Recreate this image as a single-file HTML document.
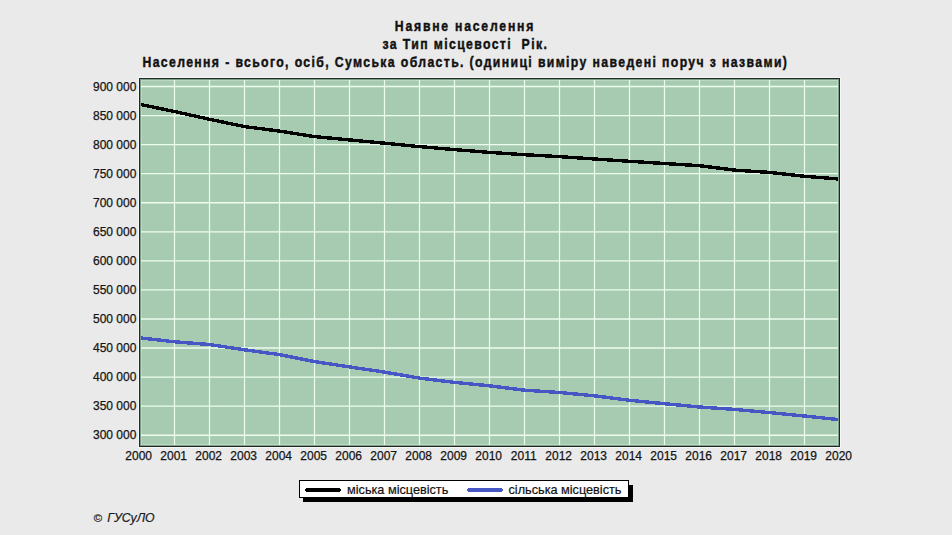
<!DOCTYPE html>
<html><head><meta charset="utf-8"><title>Наявне населення</title>
<style>html,body{margin:0;padding:0;background:#eaeaea;width:952px;height:535px;overflow:hidden}svg{display:block}</style>
</head><body><svg width="952" height="535" viewBox="0 0 952 535"><defs><clipPath id="c"><rect x="140" y="79" width="699" height="367"/></clipPath></defs><rect x="0" y="0" width="952" height="535" fill="#eaeaea"/><rect x="138.5" y="77.5" width="702" height="370" fill="none" stroke="#f6f6f6" stroke-width="1"/><rect x="139" y="78" width="701" height="369" fill="#a7cbb1"/><rect x="141.5" y="80.5" width="696" height="364" fill="none" stroke="#bcd8c2" stroke-width="1"/><path d="M174.5 80V445 M209.5 80V445 M244.5 80V445 M279.5 80V445 M314.5 80V445 M349.5 80V445 M384.5 80V445 M419.5 80V445 M454.5 80V445 M489.5 80V445 M524.5 80V445 M559.5 80V445 M594.5 80V445 M629.5 80V445 M664.5 80V445 M699.5 80V445 M734.5 80V445 M769.5 80V445 M804.5 80V445" stroke="#edfded" stroke-width="1.2" fill="none"/><path d="M141 86.50H838 M141 115.56H838 M141 144.62H838 M141 173.68H838 M141 202.74H838 M141 231.80H838 M141 260.86H838 M141 289.92H838 M141 318.98H838 M141 348.04H838 M141 377.10H838 M141 406.16H838 M141 435.22H838" stroke="#edfded" stroke-width="1.35" fill="none"/><g clip-path="url(#c)"><polyline points="139.5,104.3 174.5,111.5 209.5,119.3 244.5,126.6 279.5,131.1 314.5,136.6 349.5,139.9 384.5,143.2 419.5,146.6 454.5,149.6 489.5,152.4 524.5,154.7 559.5,156.6 594.5,159.0 629.5,161.3 664.5,163.5 699.5,165.7 734.5,170.1 769.5,172.4 804.5,176.25 839.5,179.1" fill="none" stroke="#000" stroke-width="3.4" stroke-linejoin="round" shape-rendering="crispEdges"/><polyline points="139.5,337.8 174.5,341.8 209.5,344.5 244.5,349.8 279.5,354.6 314.5,361.6 349.5,366.9 384.5,372.1 419.5,378.1 454.5,382.4 489.5,385.8 524.5,390.2 559.5,392.5 594.5,395.8 629.5,400.3 664.5,403.7 699.5,407.0 734.5,409.4 769.5,412.6 804.5,416.0 839.5,419.7" fill="none" stroke="#4656c4" stroke-width="3.4" stroke-linejoin="round" shape-rendering="crispEdges"/></g><rect x="139.5" y="78.5" width="700" height="368" fill="none" stroke="#1c2c22" stroke-width="1"/><rect x="140.5" y="79.5" width="698" height="366" fill="none" stroke="#7f9c88" stroke-width="1"/><g font-family="Liberation Sans, sans-serif" font-size="12" fill="#151515" stroke="#151515" stroke-width="0.25"><text x="136.4" y="90.80" text-anchor="end">900 000</text><text x="136.4" y="119.86" text-anchor="end">850 000</text><text x="136.4" y="148.92" text-anchor="end">800 000</text><text x="136.4" y="177.98" text-anchor="end">750 000</text><text x="136.4" y="207.04" text-anchor="end">700 000</text><text x="136.4" y="236.10" text-anchor="end">650 000</text><text x="136.4" y="265.16" text-anchor="end">600 000</text><text x="136.4" y="294.22" text-anchor="end">550 000</text><text x="136.4" y="323.28" text-anchor="end">500 000</text><text x="136.4" y="352.34" text-anchor="end">450 000</text><text x="136.4" y="381.40" text-anchor="end">400 000</text><text x="136.4" y="410.16" text-anchor="end">350 000</text><text x="136.4" y="438.62" text-anchor="end">300 000</text><text x="138.7" y="460.4" text-anchor="middle">2000</text><text x="173.7" y="460.4" text-anchor="middle">2001</text><text x="208.7" y="460.4" text-anchor="middle">2002</text><text x="243.7" y="460.4" text-anchor="middle">2003</text><text x="278.7" y="460.4" text-anchor="middle">2004</text><text x="313.7" y="460.4" text-anchor="middle">2005</text><text x="348.7" y="460.4" text-anchor="middle">2006</text><text x="383.7" y="460.4" text-anchor="middle">2007</text><text x="418.7" y="460.4" text-anchor="middle">2008</text><text x="453.7" y="460.4" text-anchor="middle">2009</text><text x="488.7" y="460.4" text-anchor="middle">2010</text><text x="523.7" y="460.4" text-anchor="middle">2011</text><text x="558.7" y="460.4" text-anchor="middle">2012</text><text x="593.7" y="460.4" text-anchor="middle">2013</text><text x="628.7" y="460.4" text-anchor="middle">2014</text><text x="663.7" y="460.4" text-anchor="middle">2015</text><text x="698.7" y="460.4" text-anchor="middle">2016</text><text x="733.7" y="460.4" text-anchor="middle">2017</text><text x="768.7" y="460.4" text-anchor="middle">2018</text><text x="803.7" y="460.4" text-anchor="middle">2019</text><text x="838.7" y="460.4" text-anchor="middle">2020</text></g><g font-family="Liberation Sans, sans-serif" font-weight="bold" font-size="15.3" fill="#111" stroke="#111" stroke-width="0.45" text-anchor="middle"><text transform="translate(464.1,31.35) scale(0.8,1)" x="0" y="0" textLength="173.1" lengthAdjust="spacing">Наявне населення</text><text transform="translate(464.7,49.05) scale(0.8,1)" x="0" y="0" textLength="205.4" lengthAdjust="spacing" xml:space="preserve">за Тип місцевості  Рік.</text><text transform="translate(464.65,66.85) scale(0.8,1)" x="0" y="0" textLength="805.6" lengthAdjust="spacing">Населення - всього, осіб, Сумська область. (одиниці виміру наведені поруч з назвами)</text></g><rect x="303" y="485" width="330" height="17" fill="#000"/><rect x="299.5" y="480.5" width="329" height="17" fill="#fff" stroke="#000" stroke-width="1"/><path d="M306 488h34v4h-34z M305 489h36v2h-36z" fill="#000"/><path d="M468 488h34v4h-34z M467 489h36v2h-36z" fill="#4656c4"/><g font-family="Liberation Sans, sans-serif" font-size="12.7" fill="#111" stroke="#111" stroke-width="0.2"><text x="347" y="493.9">міська місцевість</text><text x="508.5" y="493.9">сільська місцевість</text></g><g font-family="Liberation Sans, sans-serif" font-style="italic" fill="#1a1a1a" stroke="#1a1a1a" stroke-width="0.2"><text x="93.6" y="521.6" font-size="11.5">©</text><text x="107.2" y="521.7" font-size="12.5" textLength="47.5" lengthAdjust="spacingAndGlyphs">ГУСуЛО</text></g></svg></body></html>
